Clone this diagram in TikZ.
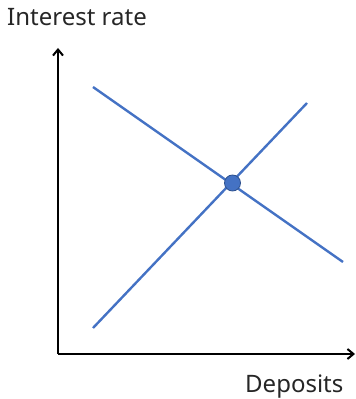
\documentclass[tikz,border=0pt]{standalone}
\usepackage{fontspec}
\setmainfont{Noto Sans}
\usetikzlibrary{arrows.meta}
\definecolor{lineblue}{HTML}{4472C4}
\definecolor{dotedge}{HTML}{2F528F}
\begin{document}
\begin{tikzpicture}[x=1pt,y=1pt,
  axis/.style={line width=2.8pt,-{Straight Barb[length=6pt,width=10pt,line width=2pt]}},
  curve/.style={lineblue,line width=2.4pt},
  lbl/.style={inner sep=0pt,font=\fontsize{24}{24}\selectfont,text=black!85}]
\useasboundingbox (0,0) rectangle (356,399);
\coordinate (O) at (58,45);
\coordinate (Ytop) at (58,351);
\coordinate (Xend) at (355,45);
\draw[axis] (O) -- (Ytop);
\draw[axis] (O) -- (Xend);
\coordinate (d1) at (93,312);
\coordinate (d2) at (343,137);
\coordinate (s1) at (93,71);
\coordinate (s2) at (307,296);
\draw[curve] (d1) -- (d2);
\draw[curve] (s1) -- (s2);
\node[circle,fill=lineblue,draw=dotedge,line width=0.8pt,minimum size=16pt,inner sep=0pt] (eq) at (232.5,216) {};
\node[lbl,anchor=base west] (ylab) at (7,373) {Interest rate};
\node[lbl,anchor=base west] (xlab) at (245,6) {Deposits};
\end{tikzpicture}
\end{document}
